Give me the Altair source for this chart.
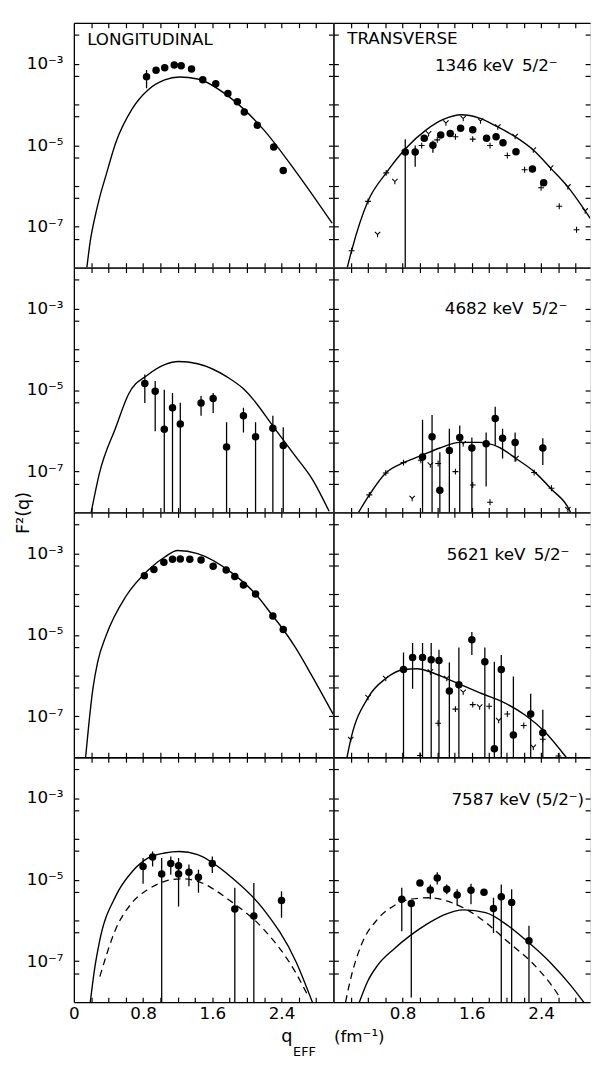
import altair as alt
import pandas as pd

# ---------------- data (q in fm^-1, F^2 values) ----------------
# Row 1: 1346 keV 5/2-  (longitudinal)
r1L_curve_q = [0.15, 0.19, 0.24, 0.295, 0.37, 0.485, 0.67, 0.86, 1.05, 1.22, 1.43, 1.81, 2.19, 2.57, 2.985]
r1L_curve_F = [1.0e-8, 4.5e-8, 1.6e-7, 5.0e-7, 1.8e-6, 1.17e-5, 7.6e-5, 2.3e-4, 4.0e-4, 4.7e-4, 4.2e-4, 1.45e-4, 2.45e-5, 2.2e-6, 1.23e-7]
r1L_dot_q = [0.84, 0.95, 1.05, 1.16, 1.24, 1.36, 1.49, 1.64, 1.78, 1.89, 1.97, 2.12, 2.31, 2.42]
r1L_dot_F = [4.8e-4, 6.9e-4, 7.9e-4, 9.3e-4, 8.9e-4, 7.4e-4, 4.0e-4, 3.2e-4, 1.86e-4, 1.17e-4, 6.5e-5, 3.1e-5, 9.1e-6, 2.4e-6]
r1L_err_q = [0.84]
r1L_err_lo = [2.5e-4]
r1L_err_hi = [7.0e-4]

# Row 1: transverse
r1R_curve_q = [0.16, 0.21, 0.40, 0.61, 0.83, 1.08, 1.27, 1.48, 1.68, 1.90, 2.10, 2.31, 2.51, 2.71, 2.91, 2.97]
r1R_curve_F = [1.0e-8, 2.6e-8, 4.3e-7, 2.1e-6, 8.1e-6, 2.45e-5, 4.3e-5, 5.6e-5, 4.7e-5, 2.8e-5, 1.62e-5, 7.6e-6, 2.75e-6, 9.5e-7, 2.45e-7, 1.6e-7]
r1R_dot_q = [0.83, 0.945, 1.05, 1.15, 1.24, 1.35, 1.47, 1.61, 1.77, 1.88, 1.96, 2.11, 2.30, 2.43]
r1R_dot_F = [6.8e-6, 6.8e-6, 1.48e-5, 1.0e-5, 1.78e-5, 1.95e-5, 2.6e-5, 2.4e-5, 1.48e-5, 1.62e-5, 1.15e-5, 6.9e-6, 2.6e-6, 1.2e-6]
r1R_err_q = [0.83, 0.945, 1.15]
r1R_err_lo = [1.0e-8, 2.95e-6, 6.5e-6]
r1R_err_hi = [1.4e-5, 9.8e-6, 1.29e-5]
r1R_Y_q = [0.51, 0.71, 1.10, 1.30, 1.50, 1.70, 1.90, 2.10, 2.31, 2.51, 2.71, 2.91]
r1R_Y_F = [6.5e-8, 1.29e-6, 1.9e-5, 3.5e-5, 4.5e-5, 3.9e-5, 2.8e-5, 1.62e-5, 7.6e-6, 2.75e-6, 9.5e-7, 2.45e-7]
r1R_P_q = [0.21, 0.40, 0.61, 1.02, 1.20, 1.41, 1.61, 1.81, 2.01, 2.21, 2.40, 2.61, 2.81]
r1R_P_F = [2.6e-8, 4.2e-7, 2.1e-6, 9.8e-6, 1.35e-5, 1.62e-5, 1.41e-5, 9.8e-6, 5.6e-6, 2.5e-6, 9.1e-7, 3.2e-7, 8.5e-8]

# Row 2: 4682 keV 5/2-
r2L_curve_q = [0.20, 0.295, 0.485, 0.63, 0.86, 1.05, 1.21, 1.43, 1.77, 1.96, 2.07, 2.30, 2.42, 2.56, 2.76, 2.95]
r2L_curve_F = [1.0e-8, 9.1e-8, 1.23e-6, 7.8e-6, 2.4e-5, 4.2e-5, 5.0e-5, 4.4e-5, 2.1e-5, 1.07e-5, 6.0e-6, 1.32e-6, 6.0e-7, 2.4e-7, 6.3e-8, 1.07e-8]
r2L_dot_q = [0.82, 0.94, 1.045, 1.14, 1.23, 1.47, 1.61, 1.765, 1.96, 2.10, 2.30, 2.42]
r2L_dot_F = [1.45e-5, 9.3e-6, 1.1e-6, 3.7e-6, 1.48e-6, 4.8e-6, 6.2e-6, 4.0e-7, 2.35e-6, 7.2e-7, 1.15e-6, 4.4e-7]
r2L_err_q = r2L_dot_q
r2L_err_lo = [4.8e-6, 9.8e-7, 1e-8, 1e-8, 1e-8, 2.35e-6, 2.75e-6, 1e-8, 9.1e-7, 1e-8, 1e-8, 1e-8]
r2L_err_hi = [2.4e-5, 1.66e-5, 1.02e-5, 8.5e-6, 4.9e-6, 7.1e-6, 8.5e-6, 1.62e-6, 3.7e-6, 1.62e-6, 2.35e-6, 1.23e-6]

r2R_curve_q = [0.29, 0.415, 0.605, 0.81, 1.02, 1.23, 1.46, 1.68, 1.91, 2.11, 2.32, 2.52, 2.73, 2.76]
r2R_curve_F = [1.0e-8, 2.7e-8, 9.3e-8, 1.66e-7, 2.5e-7, 3.8e-7, 5.2e-7, 5.2e-7, 4.0e-7, 2.1e-7, 1.0e-7, 3.7e-8, 1.12e-8, 8.0e-9]
r2R_dot_q = [1.03, 1.14, 1.23, 1.34, 1.46, 1.60, 1.765, 1.87, 1.955, 2.10, 2.42]
r2R_dot_F = [2.3e-7, 7.2e-7, 3.5e-8, 3.3e-7, 6.9e-7, 3.8e-7, 4.8e-7, 2.0e-6, 6.6e-7, 5.2e-7, 3.8e-7]
r2R_err_q = r2R_dot_q
r2R_err_lo = [1e-8, 1e-8, 1e-8, 1e-8, 1e-8, 1e-8, 4.3e-8, 4.4e-7, 2.1e-7, 1.74e-7, 1.45e-7]
r2R_err_hi = [1.86e-6, 2.45e-6, 3.0e-7, 1.12e-6, 1.35e-6, 6.9e-7, 9.1e-7, 3.9e-6, 1.12e-6, 9.1e-7, 6.6e-7]
r2R_Y_q = [0.91, 1.12, 1.50, 2.11, 2.71]
r2R_Y_F = [2.2e-8, 1.45e-7, 4.8e-7, 2.1e-7, 1.17e-8]
r2R_P_q = [0.415, 0.605, 0.81, 1.01, 1.21, 1.41, 1.61, 1.81, 2.32, 2.52]
r2R_P_F = [2.7e-8, 9.3e-8, 1.66e-7, 1.9e-7, 1.58e-7, 1.0e-7, 4.7e-8, 1.78e-8, 9.5e-8, 3.9e-8]

# Row 3: 5621 keV 5/2-
r3L_curve_q = [0.136, 0.22, 0.276, 0.37, 0.60, 0.86, 1.05, 1.20, 1.43, 1.81, 2.10, 2.30, 2.42, 2.56, 2.75, 3.0]
r3L_curve_F = [1.0e-8, 4.8e-7, 2.2e-6, 9.3e-6, 8.7e-5, 3.9e-4, 8.1e-4, 1.17e-3, 9.8e-4, 3.5e-4, 1.0e-4, 2.9e-5, 1.35e-5, 4.9e-6, 1.0e-6, 1.1e-7]
r3L_dot_q = [0.815, 0.925, 1.04, 1.14, 1.23, 1.34, 1.47, 1.61, 1.76, 1.86, 1.96, 2.10, 2.30, 2.42]
r3L_dot_F = [2.8e-4, 4.0e-4, 6.0e-4, 7.1e-4, 7.2e-4, 7.1e-4, 6.8e-4, 4.8e-4, 3.9e-4, 2.7e-4, 1.66e-4, 1.0e-4, 2.9e-5, 1.35e-5]

r3R_curve_q = [0.157, 0.20, 0.40, 0.605, 0.81, 0.97, 1.12, 1.31, 1.49, 1.72, 1.95, 2.21, 2.44, 2.69]
r3R_curve_F = [1.0e-8, 2.7e-8, 2.9e-7, 8.5e-7, 1.41e-6, 1.48e-6, 1.23e-6, 8.5e-7, 5.8e-7, 3.6e-7, 2.3e-7, 1.1e-7, 4.3e-8, 1.0e-8]
r3R_dot_q = [0.81, 0.915, 1.03, 1.13, 1.22, 1.34, 1.45, 1.60, 1.75, 1.86, 1.94, 2.08, 2.28, 2.42]
r3R_dot_F = [1.41e-6, 2.8e-6, 2.8e-6, 2.45e-6, 2.35e-6, 4.2e-7, 6.0e-7, 7.6e-6, 2.2e-6, 1.62e-8, 1.41e-6, 3.5e-8, 1.15e-7, 4.0e-8]
r3R_err_q = r3R_dot_q
r3R_err_lo = [1e-8, 4.8e-7, 1e-8, 1e-8, 1e-8, 1e-8, 1e-8, 3.2e-6, 1e-8, 1e-8, 1e-8, 1e-8, 1e-8, 1e-8]
r3R_err_hi = [3.7e-6, 6.3e-6, 6.3e-6, 6.3e-6, 4.3e-6, 2.1e-6, 4.9e-6, 1.17e-5, 4.9e-6, 2.2e-6, 3.2e-6, 9.5e-7, 3.6e-7, 1.45e-7]
r3R_Y_q = [0.20, 0.40, 0.605, 1.12, 1.31, 1.50, 1.69, 1.91, 2.31]
r3R_Y_F = [2.7e-8, 2.9e-7, 8.5e-7, 1.23e-6, 8.5e-7, 3.9e-7, 1.7e-7, 7.9e-8, 1.74e-8]
r3R_P_q = [1.00, 1.21, 1.41, 1.61, 1.80, 2.01, 2.20, 2.42, 2.60]
r3R_P_F = [1.1e-8, 6.8e-8, 1.51e-7, 1.95e-7, 1.78e-7, 1.15e-7, 6.0e-8, 2.75e-8, 1.07e-8]

# Row 4: 7587 keV (5/2-)
r4L_curve_q = [0.19, 0.24, 0.295, 0.485, 0.675, 0.86, 1.05, 1.22, 1.43, 1.81, 2.19, 2.57, 2.76]
r4L_curve_F = [1.0e-8, 6.6e-8, 2.95e-7, 4.0e-6, 1.58e-5, 3.4e-5, 4.5e-5, 4.9e-5, 4.1e-5, 1.2e-5, 1.9e-6, 9.5e-8, 9.5e-9]
r4L_dash_q = [0.30, 0.485, 0.675, 0.86, 1.05, 1.24, 1.43, 1.81, 2.19, 2.57, 2.70]
r4L_dash_F = [4.2e-8, 6.2e-7, 2.75e-6, 5.8e-6, 9.1e-6, 1.05e-5, 9.1e-6, 3.0e-6, 6.2e-7, 5.0e-8, 1.5e-8]
r4L_dot_q = [0.80, 0.91, 1.015, 1.12, 1.21, 1.21, 1.33, 1.44, 1.60, 1.86, 2.08, 2.40]
r4L_dot_F = [2.1e-5, 3.6e-5, 1.38e-5, 2.5e-5, 2.2e-5, 1.38e-5, 1.51e-5, 1.15e-5, 2.5e-5, 1.9e-6, 1.29e-6, 3.1e-6]
r4L_err_q = r4L_dot_q
r4L_err_lo = [7.9e-6, 2.1e-5, 1e-8, 1.32e-5, 1.45e-5, 2.2e-6, 6.9e-6, 4.8e-6, 1.45e-5, 1e-8, 1e-8, 1.17e-6]
r4L_err_hi = [3.4e-5, 4.9e-5, 3.4e-5, 3.7e-5, 3.4e-5, 2.1e-5, 2.35e-5, 1.74e-5, 3.7e-5, 6.3e-6, 8.3e-6, 5.2e-6]

r4R_curve_q = [0.30, 0.395, 0.51, 0.70, 0.89, 1.08, 1.27, 1.51, 1.76, 2.02, 2.21, 2.52, 2.74, 2.90]
r4R_curve_F = [1.0e-8, 3.2e-8, 7.9e-8, 2.0e-7, 4.3e-7, 8.1e-7, 1.35e-6, 1.82e-6, 1.55e-6, 7.4e-7, 3.5e-7, 8.7e-8, 2.6e-8, 9.5e-9]
r4R_dash_q = [0.14, 0.21, 0.32, 0.51, 0.70, 0.89, 1.12, 1.31, 1.53, 1.76, 2.02, 2.29, 2.52, 2.61]
r4R_dash_F = [1.0e-8, 4.6e-8, 2.45e-7, 1.07e-6, 2.3e-6, 3.3e-6, 3.6e-6, 3.0e-6, 1.9e-6, 8.9e-7, 2.95e-7, 9.5e-8, 2.6e-8, 1.38e-8]
r4R_dot_q = [0.79, 0.90, 1.00, 1.12, 1.20, 1.31, 1.43, 1.59, 1.74, 1.85, 1.94, 2.06, 2.26]
r4R_dot_F = [3.3e-6, 2.6e-6, 8.3e-6, 5.6e-6, 1.1e-5, 5.8e-6, 4.2e-6, 5.5e-6, 4.9e-6, 1.95e-6, 3.8e-6, 2.75e-6, 3.2e-7]
r4R_err_q = [0.79, 0.90, 1.12, 1.20, 1.31, 1.43, 1.59, 1.85, 1.94, 2.06, 2.26]
r4R_err_lo = [5.4e-7, 1.29e-8, 3.3e-6, 7.6e-6, 4.4e-6, 2.3e-6, 2.5e-6, 4.9e-7, 1e-8, 1e-8, 1e-8]
r4R_err_hi = [6.3e-6, 2.8e-6, 7.6e-6, 1.51e-5, 7.6e-6, 5.8e-6, 7.9e-6, 3.6e-6, 7.6e-6, 5.8e-6, 7.4e-7]

# axis ticks / labels
X_TICKS = [0.2, 0.4, 0.6, 0.8, 1.0, 1.2, 1.4, 1.6, 1.8, 2.0, 2.2, 2.4, 2.6, 2.8]
X_LABELS = [[0, 0.8, 1.6, 2.4], [0.8, 1.6, 2.4]]
Y_TICKS = [5e-3, 1e-3, 5e-4, 1e-4, 5e-5, 1e-5, 5e-6, 1e-6, 5e-7, 1e-7, 5e-8]
Y_LABELS = [1e-3, 1e-5, 1e-7]
Y_DOMAIN = [1e-8, 1e-2]

# ---------------- styling / layout ----------------
FONT = "DejaVu Sans"
H = 249
WIDTHS = [264, 261]
QPX = 88.0
Y_PATH = "M-1,-1L0,0L1,-1M0,0L0,1"
P_PATH = "M-1,0L1,0M0,-1L0,1"
ENSP = "\u2002"


def df2(q, F, a="q", b="F"):
    return pd.DataFrame({a: q, b: F})


PANELS = {
    (0, 0): dict(curve=(r1L_curve_q, r1L_curve_F), dots=(r1L_dot_q, r1L_dot_F),
                 err=(r1L_err_q, r1L_err_lo, r1L_err_hi),
                 texts=[("LONGITUDINAL", 13.5, 22.7, 17)]),
    (0, 1): dict(curve=(r1R_curve_q, r1R_curve_F), dots=(r1R_dot_q, r1R_dot_F),
                 err=(r1R_err_q, r1R_err_lo, r1R_err_hi),
                 ysym=(r1R_Y_q, r1R_Y_F), psym=(r1R_P_q, r1R_P_F),
                 texts=[("TRANSVERSE", 14, 22, 17)],
                 rtexts=[("1346 keV" + ENSP + "5/2⁻", 228, 48.7, 17)]),
    (1, 0): dict(curve=(r2L_curve_q, r2L_curve_F), dots=(r2L_dot_q, r2L_dot_F),
                 err=(r2L_err_q, r2L_err_lo, r2L_err_hi)),
    (1, 1): dict(curve=(r2R_curve_q, r2R_curve_F), dots=(r2R_dot_q, r2R_dot_F),
                 err=(r2R_err_q, r2R_err_lo, r2R_err_hi),
                 ysym=(r2R_Y_q, r2R_Y_F), psym=(r2R_P_q, r2R_P_F),
                 rtexts=[("4682 keV" + ENSP + "5/2⁻", 238, 47.3, 17)]),
    (2, 0): dict(curve=(r3L_curve_q, r3L_curve_F), dots=(r3L_dot_q, r3L_dot_F)),
    (2, 1): dict(curve=(r3R_curve_q, r3R_curve_F), dots=(r3R_dot_q, r3R_dot_F),
                 err=(r3R_err_q, r3R_err_lo, r3R_err_hi),
                 ysym=(r3R_Y_q, r3R_Y_F), psym=(r3R_P_q, r3R_P_F),
                 rtexts=[("5621 keV" + ENSP + "5/2⁻", 240, 48.0, 17)]),
    (3, 0): dict(curve=(r4L_curve_q, r4L_curve_F), dash=(r4L_dash_q, r4L_dash_F),
                 dots=(r4L_dot_q, r4L_dot_F), err=(r4L_err_q, r4L_err_lo, r4L_err_hi),
                 texts=[("q", 211, 290, 18), ("EFF", 223, 303.5, 13)]),
    (3, 1): dict(curve=(r4R_curve_q, r4R_curve_F), dash=(r4R_dash_q, r4R_dash_F),
                 dots=(r4R_dot_q, r4R_dot_F), err=(r4R_err_q, r4R_err_lo, r4R_err_hi),
                 texts=[("(fm⁻¹)", 0.5, 290, 17)],
                 rtexts=[("7587 keV (5/2⁻)", 255, 49.0, 17)]),
}


def ax(**kw):
    d = dict(grid=False, title=None, tickColor="black", domainColor="black",
             labelColor="black", labelFont=FONT, labelFontSize=17, labelFontWeight="normal",
             tickWidth=1.2, domainWidth=1.3, minExtent=0, maxExtent=200)
    d.update(kw)
    return alt.Axis(**d)


def make_panel(row, col, spec):
    width = WIDTHS[col]
    xsc = alt.Scale(domain=[0, width / QPX], nice=False, zero=False)
    ysc = alt.Scale(type="log", domain=Y_DOMAIN, nice=False)
    carrier = alt.Chart(df2(*spec["dots"]))

    def enc(xa, ya):
        return dict(x=alt.X("q:Q", scale=xsc, axis=xa), y=alt.Y("F:Q", scale=ysc, axis=ya))

    ytitle = {}
    if col == 0 and row == 1:
        ytitle = dict(title="F²(q)", titleFont=FONT, titleFontSize=18, titleFontWeight="normal",
                      titleColor="black", titleAngle=270, titleX=-51, titleY=249,
                      titleAlign="center", titleBaseline="middle")
    # frame lines + labels
    xa1 = ax(orient="bottom", values=X_LABELS[col], domain=True, ticks=False, labels=(row == 3),
             labelExpr="datum.value == 0 ? '0' : format(datum.value, '.1f')",
             labelPadding=4, labelFlush=False, labelOverlap=False)
    ya1 = ax(orient="left", values=Y_LABELS, domain=True, ticks=False, labels=(col == 0),
             labelExpr="datum.value > 1e-4 ? '10⁻³' : (datum.value > 1e-6 ? '10⁻⁵' : '10⁻⁷')",
             labelPadding=11, labelFontSize=17, labelOverlap=False, labelFlush=False, **ytitle)
    xa2 = ax(orient="top", values=X_TICKS, domain=True, ticks=False, labels=False)
    ya2 = ax(orient="right", values=Y_TICKS, domain=True, ticks=False, labels=False) if col == 0 else None
    # inward ticks
    xa3 = ax(orient="bottom", values=X_TICKS, domain=False, ticks=True, tickSize=5, offset=-5, labels=False)
    ya3 = ax(orient="left", values=Y_TICKS, domain=False, ticks=True, tickSize=5, offset=-5, labels=False)
    xa4 = ax(orient="top", values=X_TICKS, domain=False, ticks=True, tickSize=5, offset=-5, labels=False)
    ya4 = ax(orient="right", values=Y_TICKS, domain=False, ticks=True, tickSize=5, offset=-5, labels=False)

    layers = [
        carrier.mark_point(opacity=0).encode(**enc(xa1, ya1)),
        carrier.mark_point(opacity=0).encode(**enc(xa2, ya2)),
        carrier.mark_point(opacity=0).encode(**enc(xa3, ya3)),
        carrier.mark_point(opacity=0).encode(**enc(xa4, ya4)),
    ]
    layers.append(alt.Chart(df2(*spec["curve"])).mark_line(
        color="black", strokeWidth=1.4, interpolate="monotone", clip=True).encode(**enc(None, None)))
    if "dash" in spec:
        layers.append(alt.Chart(df2(*spec["dash"])).mark_line(
            color="black", strokeWidth=1.3, strokeDash=[7, 5], interpolate="monotone", clip=True
        ).encode(**enc(None, None)))
    if "err" in spec:
        eq, lo, hi = spec["err"]
        layers.append(alt.Chart(pd.DataFrame({"q": eq, "lo": lo, "hi": hi})).mark_rule(
            color="black", strokeWidth=1.3, clip=True).encode(
            x=alt.X("q:Q", scale=xsc, axis=None), y=alt.Y("lo:Q", scale=ysc, axis=None), y2="hi:Q"))
    layers.append(carrier.mark_circle(color="black", size=58, opacity=1, clip=True).encode(**enc(None, None)))
    if "ysym" in spec:
        layers.append(alt.Chart(df2(*spec["ysym"])).mark_point(
            shape=Y_PATH, size=30, filled=False, color="black", strokeWidth=1.1, opacity=1, clip=True
        ).encode(**enc(None, None)))
    if "psym" in spec:
        layers.append(alt.Chart(df2(*spec["psym"])).mark_point(
            shape=P_PATH, size=36, filled=False, color="black", strokeWidth=1.1, opacity=1, clip=True
        ).encode(**enc(None, None)))
    for key, align in (("texts", "left"), ("rtexts", "right")):
        for (t, x, y, fs) in spec.get(key, []):
            layers.append(alt.Chart(pd.DataFrame({"t": [t]})).mark_text(
                align=align, baseline="alphabetic", font=FONT, fontSize=fs, color="black"
            ).encode(x=alt.value(x), y=alt.value(y), text="t:N"))
    return alt.layer(*layers).properties(width=width, height=H).resolve_axis(
        x="independent", y="independent")


panels = [make_panel(r, c, PANELS[(r, c)]) for r in range(4) for c in range(2)]

chart = alt.concat(*panels, columns=2, spacing=0, bounds="flush").properties(
    padding={"left": 6, "top": 4, "right": 0, "bottom": 0}
).configure_view(stroke=None).configure(background="white")

chart.save("out.html", embed_options={"renderer": "svg", "actions": False})
